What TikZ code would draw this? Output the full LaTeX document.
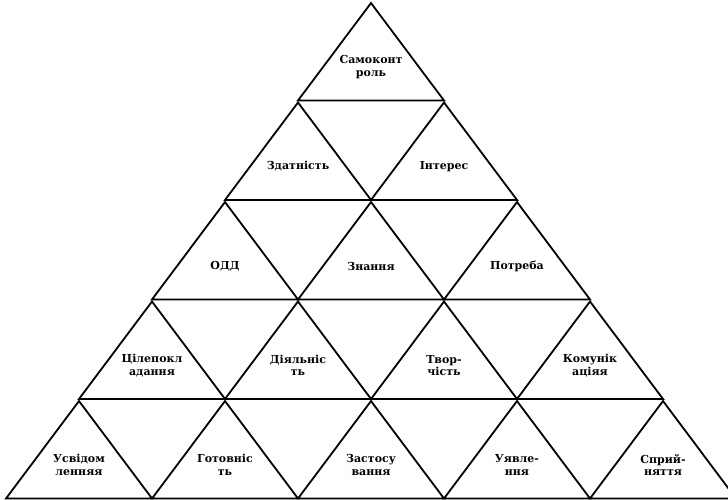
\documentclass[tikz,border=0pt]{standalone}
\usepackage{fontspec}
\setmainfont{DejaVu Serif}
\begin{document}
\begin{tikzpicture}[x=1pt,y=-1pt,
  tri/.style={draw=black,line width=1.8pt,line join=miter},
  lbl/.style={font=\bfseries\fontsize{11}{12.5}\selectfont,align=center,inner sep=0pt}]
\useasboundingbox (0,0) rectangle (728,500);
\clip (0,0) rectangle (728,500);
\foreach \k in {0,...,4}{
  \foreach \j in {0,...,\k}{
    \pgfmathsetmacro\ax{371-73*\k+146*\j}
    \pgfmathsetmacro\ay{3+99.5*\k}
    \draw[tri] (\ax,\ay) -- (\ax+73,\ay+97.5) -- (\ax-73,\ay+97.5) -- cycle;
  }
}
% labels: centre at apex + 64
\node[lbl] (t00) at (371,67) {Самоконт\\роль};
\node[lbl] (t10) at (298,166.5) {Здатність};
\node[lbl] (t11) at (444,166.5) {Інтерес};
\node[lbl] (t20) at (225,266) {ОДД};
\node[lbl] (t21) at (371,266) {Знання};
\node[lbl] (t22) at (517,266) {Потреба};
\node[lbl] (t30) at (152,365.5) {Цілепокл\\адання};
\node[lbl] (t31) at (298,365.5) {Діяльніс\\ть};
\node[lbl] (t32) at (444,365.5) {Твор-\\чість};
\node[lbl] (t33) at (590,365.5) {Комунік\\аціяя};
\node[lbl] (t40) at (79,465) {Усвідом\\ленняя};
\node[lbl] (t41) at (225,465) {Готовніс\\ть};
\node[lbl] (t42) at (371,465) {Застосу\\вання};
\node[lbl] (t43) at (517,465) {Уявле-\\ння};
\node[lbl] (t44) at (663,465) {Сприй-\\няття};
\end{tikzpicture}
\end{document}
